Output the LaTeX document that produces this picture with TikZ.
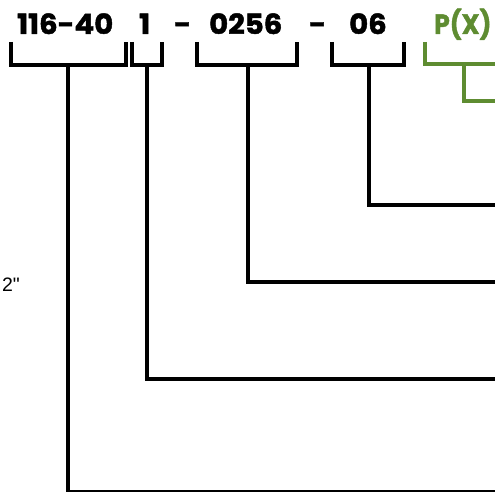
\documentclass[tikz,border=0pt]{standalone}
\usepackage{fontspec}
\newfontfamily\codefont{Poppins}[BoldFeatures={FakeBold=1.6}]
\newfontfamily\arialfont{Liberation Sans}
\definecolor{pgreen}{HTML}{5E8C31}
\newcommand{\wide}[1]{\scalebox{1.12}[1.07]{#1}}
\newcommand{\narrow}[1]{\scalebox{0.96}[1.07]{#1}}
\begin{document}
\begin{tikzpicture}[x=1pt,y=-1pt,
  code/.style={font=\codefont\bfseries\fontsize{26}{26}\selectfont, inner sep=0pt, anchor=base west},
  brk/.style={line width=3.3pt, line cap=butt, line join=miter},
  gbrk/.style={brk, draw=pgreen}]
\useasboundingbox (0,0) rectangle (495,492);
% texts
\node[code] (t1) at (17,34) {\wide{116-40}};
\node[code] (t2) at (139,34) {\wide{1}};
\node[code] (d1) at (174,34) {\wide{-}};
\node[code] (t3) at (209,34) {\wide{0256}};
\node[code] (d2) at (309,34) {\wide{-}};
\node[code] (t4) at (349,34) {\wide{06}};
\node[code, text=pgreen] (t5) at (434,34) {\narrow{P(X)}};
\node[font=\arialfont\fontsize{19.5}{19.5}\selectfont, inner sep=0pt, anchor=base east] (s) at (20,291) {2"};
% brackets
\coordinate (e1) at (495,492);
\coordinate (e2) at (495,379);
\coordinate (e3) at (495,282);
\coordinate (e4) at (495,205);
\coordinate (e5) at (495,101);
\draw[brk] (11,42) -- (11,65) -- (126,65) -- (126,42);
\draw[brk] (68,65) -- (68,492) -- (e1);
\draw[brk] (132,42) -- (132,65) -- (162,65) -- (162,42);
\draw[brk] (147,65) |- (e2);
\draw[brk] (197,42) -- (197,65) -- (297,65) -- (297,42);
\draw[brk] (248,65) |- (e3);
\draw[brk] (332,42) -- (332,65) -- (404,65) -- (404,42);
\draw[brk] (369,65) |- (e4);
\draw[gbrk] (425,42) -- (425,64) -- (495,64);
\draw[gbrk] (464,64) |- (e5);
\end{tikzpicture}
\end{document}
